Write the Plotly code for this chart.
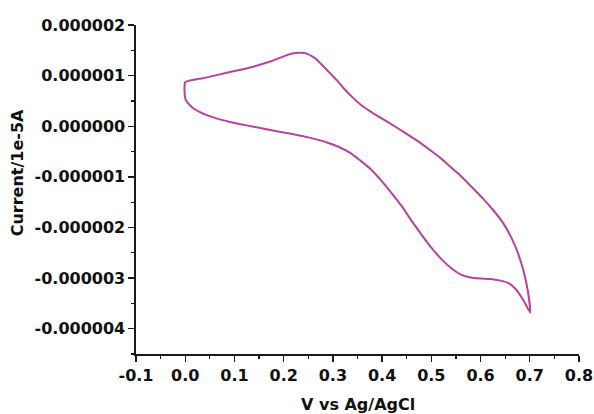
import plotly.graph_objects as go

# Potential (V vs Ag/AgCl) and current (in units of 1e-6)
potential = [0.000, 0.037, 0.064, 0.100, 0.132, 0.153, 0.173, 0.187, 0.205, 0.220, 0.235, 0.248,
             0.258, 0.268, 0.280, 0.295, 0.310, 0.322, 0.340, 0.356, 0.375, 0.393, 0.417, 0.445,
             0.472, 0.500, 0.519, 0.535, 0.553, 0.580, 0.607, 0.625, 0.645, 0.662, 0.675, 0.687,
             0.696, 0.701,
             0.686, 0.670, 0.655, 0.640, 0.620, 0.600, 0.580, 0.560, 0.540, 0.520, 0.500, 0.480,
             0.460, 0.440, 0.420, 0.397, 0.377, 0.356, 0.336, 0.310, 0.288, 0.270, 0.250, 0.220,
             0.186, 0.139, 0.115, 0.091, 0.065, 0.044, 0.030, 0.017, 0.006, 0.000, 0.000]
current = [0.87, 0.95, 1.01, 1.09, 1.16, 1.22, 1.28, 1.33, 1.40, 1.44, 1.45, 1.43,
           1.38, 1.31, 1.19, 1.04, 0.89, 0.75, 0.57, 0.43, 0.30, 0.19, 0.05, -0.12,
           -0.29, -0.49, -0.63, -0.77, -0.92, -1.18, -1.45, -1.65, -1.90, -2.19, -2.48, -2.85,
           -3.25, -3.68,
           -3.42, -3.20, -3.09, -3.05, -3.02, -3.01, -2.99, -2.93, -2.80, -2.62, -2.40, -2.14,
           -1.87, -1.58, -1.33, -1.06, -0.85, -0.68, -0.53, -0.40, -0.32, -0.27, -0.22, -0.16,
           -0.10, -0.01, 0.035, 0.085, 0.15, 0.22, 0.28, 0.35, 0.45, 0.55, 0.87]

y_tickvals = [-4, -3, -2, -1, 0, 1, 2]
y_ticktext = ["-0.000004", "-0.000003", "-0.000002", "-0.000001", "0.000000", "0.000001", "0.000002"]
x_tickvals = [-0.1, 0.0, 0.1, 0.2, 0.3, 0.4, 0.5, 0.6, 0.7, 0.8]
x_ticktext = ["-0.1", "0.0", "0.1", "0.2", "0.3", "0.4", "0.5", "0.6", "0.7", "0.8"]

font_family = "DejaVu Sans"
axis_color = "#1a1a1a"

fig = go.Figure()
fig.add_trace(go.Scatter(
    x=potential, y=current, mode="lines",
    line=dict(color="#B5439F", width=2, shape="spline", smoothing=0.5),
    showlegend=False, hoverinfo="skip",
))

fig.update_layout(
    width=594, height=414,
    margin=dict(l=136, r=15, t=25, b=60, autoexpand=False),
    paper_bgcolor="white", plot_bgcolor="white",
    font=dict(family=font_family, size=16, color="#111111"),
)

fig.update_xaxes(
    range=[-0.1, 0.8], showgrid=False, zeroline=False, automargin=False,
    showline=True, linecolor=axis_color, linewidth=1.6,
    ticks="outside", ticklen=6, tickwidth=1.4, tickcolor=axis_color,
    tickvals=x_tickvals, ticktext=x_ticktext,
    tickfont=dict(family=font_family, size=16, weight="bold"),
    minor=dict(dtick=0.05, tick0=0, ticks="outside", ticklen=3.5, tickwidth=1.2, tickcolor=axis_color),
)
fig.update_yaxes(
    range=[-4.5, 2.0], showgrid=False, zeroline=False, automargin=False,
    showline=True, linecolor=axis_color, linewidth=1.6,
    ticks="outside", ticklen=6, tickwidth=1.4, tickcolor=axis_color,
    tickvals=y_tickvals, ticktext=y_ticktext,
    tickfont=dict(family=font_family, size=16, weight="bold"),
    minor=dict(dtick=0.5, tick0=0, ticks="outside", ticklen=3.5, tickwidth=1.2, tickcolor=axis_color),
)

fig.add_annotation(
    text="V vs Ag/AgCl", xref="paper", yref="paper", x=0.5, y=-0.155,
    xanchor="center", yanchor="middle", showarrow=False,
    font=dict(family=font_family, size=16, weight="bold", color="#111111"),
)
fig.add_annotation(
    text="Current/1e-5A", xref="paper", yref="paper", x=-0.268, y=0.55,
    xanchor="center", yanchor="middle", showarrow=False, textangle=-90,
    font=dict(family=font_family, size=16, weight="bold", color="#111111"),
)

fig.write_html(
    "out.html",
    config={"displayModeBar": False, "staticPlot": True},
    post_script="document.body.style.margin='0';document.body.style.overflow='hidden';",
)
